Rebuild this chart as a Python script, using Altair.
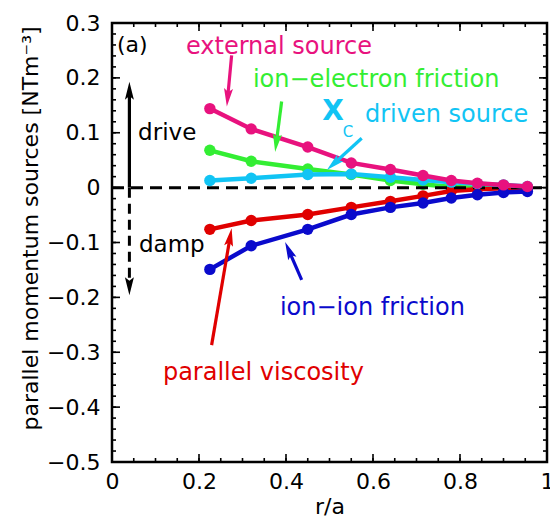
import math
import altair as alt
import pandas as pd

# ---------------- data ----------------
r_vals = [0.225, 0.32, 0.45, 0.55, 0.64, 0.715, 0.78, 0.84, 0.90, 0.955]
external = [0.144, 0.107, 0.074, 0.045, 0.033, 0.022, 0.013, 0.008, 0.005, 0.002]
ion_electron = [0.068, 0.048, 0.034, 0.024, 0.013, 0.006, 0.001, 0.0, 0.0, 0.0]
chi_c = [0.013, 0.017, 0.024, 0.025, 0.019, 0.014, 0.010, 0.007, 0.005, 0.002]
viscosity = [-0.076, -0.060, -0.049, -0.036, -0.025, -0.015, -0.006, -0.003, -0.001, 0.0]
ion_ion = [-0.149, -0.106, -0.076, -0.049, -0.036, -0.028, -0.019, -0.013, -0.009, -0.007]

x_labels = [0, 0.2, 0.4, 0.6, 0.8, 1]
y_labels = [-0.5, -0.4, -0.3, -0.2, -0.1, 0, 0.1, 0.2, 0.3]
x_minor = [round(0.05 * i, 2) for i in range(21)]
y_minor = [round(-0.5 + 0.02 * i, 2) for i in range(41)]

PINK = "#e8127e"
GREEN = "#33ee33"
CYAN = "#11c4f4"
RED = "#e00000"
BLUE = "#0a0acc"

# annotation texts (data coords)
ann_text = ["(a)", "external source", "ion\u2212electron friction", "driven source",
            "drive", "damp", "ion\u2212ion friction", "parallel viscosity"]
ann_r = [0.0115, 0.170, 0.324, 0.5816, 0.060, 0.062, 0.386, 0.117]
ann_v = [0.260, 0.256, 0.196, 0.1323, 0.0995, -0.1046, -0.2194, -0.3378]
ann_col = ["black", PINK, GREEN, CYAN, "black", "black", BLUE, RED]
ann_fs = [22, 24, 24, 24, 23, 23, 24, 24]

# arrows: start -> tip
arr_r0 = [0.275, 0.390, 0.574, 0.436, 0.229]
arr_v0 = [0.241, 0.157, 0.090, -0.168, -0.287]
arr_r1 = [0.264, 0.375, 0.494, 0.398, 0.275]
arr_v1 = [0.148, 0.065, 0.032, -0.099, -0.074]
arr_col = [PINK, GREEN, CYAN, BLUE, RED]

drive_r = 0.04
drive_v = [0.0, 0.193]
damp_v = [0.0, -0.196]

W, H = 435, 439
FONT = "DejaVu Sans"
PX_X = W / 1.0
PX_Y = H / 0.8
HEAD = 9.0

xscale = alt.Scale(domain=[0, 1], nice=False, zero=False)
yscale = alt.Scale(domain=[-0.5, 0.3], nice=False, zero=False)
xaxis = alt.Axis(values=x_labels, format=".1~f", ticks=False, tickSize=0, domain=False, grid=False,
                 labelFont=FONT, labelFontSize=22, labelColor="black", labelPadding=9,
                 labelFlush=False, labelOverlap=False,
                 title="r/a", titleFont=FONT, titleFontSize=22, titleFontWeight="normal",
                 titleColor="black", titlePadding=4)
yaxis = alt.Axis(values=y_labels, format=".1~f", ticks=False, tickSize=0, domain=False, grid=False,
                 labelFont=FONT, labelFontSize=22, labelColor="black", labelPadding=12,
                 labelFlush=False, labelOverlap=False,
                 title="parallel momentum sources [NTm\u207b\u00b3]", titleFont=FONT,
                 titleFontSize=22, titleFontWeight="normal", titleColor="black",
                 titleX=-70, titleY=205)
X = alt.X("r:Q", scale=xscale, axis=xaxis)
Y = alt.Y("v:Q", scale=yscale, axis=yaxis)

layers = []

# ticks (inward)
def ticks_y(vals, length):
    d = pd.DataFrame({"v": vals})
    left = alt.Chart(d).mark_rule(color="black", strokeWidth=1.6).encode(
        y=Y, x=alt.value(0), x2=alt.value(length))
    right = alt.Chart(d).mark_rule(color="black", strokeWidth=1.6).encode(
        y=Y, x=alt.value(W), x2=alt.value(W - length))
    return [left, right]

def ticks_x(vals, length):
    d = pd.DataFrame({"r": vals})
    top = alt.Chart(d).mark_rule(color="black", strokeWidth=1.6).encode(
        x=X, y=alt.value(0), y2=alt.value(length))
    bot = alt.Chart(d).mark_rule(color="black", strokeWidth=1.6).encode(
        x=X, y=alt.value(H), y2=alt.value(H - length))
    return [top, bot]

layers += ticks_y(y_minor, 4) + ticks_y(y_labels, 8) + ticks_x(x_minor, 4) + ticks_x(x_labels, 8)

def series(vals, color):
    d = pd.DataFrame({"r": r_vals, "v": vals})
    base = alt.Chart(d)
    return [base.mark_line(color=color, strokeWidth=4.5).encode(x=X, y=Y),
            base.mark_circle(color=color, size=130, opacity=1).encode(x=X, y=Y)]

zero = alt.Chart(pd.DataFrame({"v": [0.0]})).mark_rule(
    color="black", strokeWidth=3, strokeDash=[12, 7]).encode(y=Y, x=alt.value(0), x2=alt.value(W))

layers += series(ion_electron, GREEN)
layers += series(viscosity, RED)
layers.append(zero)
layers += series(chi_c, CYAN)
layers += series(ion_ion, BLUE)
layers += series(external, PINK)

# arrows
def arrow_parts(r0, v0, r1, v1):
    dx = (r1 - r0) * PX_X
    dy = -(v1 - v0) * PX_Y
    L = math.hypot(dx, dy)
    ux, uy = dx / L, dy / L
    cr = r1 - ux * HEAD / PX_X
    cv = v1 + uy * HEAD / PX_Y
    ang = math.degrees(math.atan2(ux, -uy)) % 360
    return cr, cv, ang

rows_line, rows_head = [], []
for r0, v0, r1, v1, c in zip(arr_r0, arr_v0, arr_r1, arr_v1, arr_col):
    cr, cv, ang = arrow_parts(r0, v0, r1, v1)
    rows_line.append({"r": r0, "v": v0, "r2": cr, "v2": cv, "c": c})
    rows_head.append({"r": cr, "v": cv, "a": ang, "c": c})
# drive / damp
cr, cv, ang = arrow_parts(drive_r, drive_v[0], drive_r, drive_v[1])
rows_line.append({"r": drive_r, "v": drive_v[0], "r2": cr, "v2": cv, "c": "black"})
rows_head.append({"r": cr, "v": cv, "a": ang, "c": "black"})
dcr, dcv, dang = arrow_parts(drive_r, damp_v[0], drive_r, damp_v[1])
rows_head.append({"r": dcr, "v": dcv, "a": dang, "c": "black"})

lines_df = pd.DataFrame(rows_line)
heads_df = pd.DataFrame(rows_head)
damp_df = pd.DataFrame([{"r": drive_r, "v": damp_v[0], "r2": dcr, "v2": dcv}])

layers.append(alt.Chart(lines_df).mark_rule(strokeWidth=3.2).encode(
    x=X, y=Y, x2="r2:Q", y2="v2:Q", color=alt.Color("c:N", scale=None)))
layers.append(alt.Chart(damp_df).mark_rule(strokeWidth=3, strokeDash=[10, 6], color="black").encode(
    x=X, y=Y, x2="r2:Q", y2="v2:Q"))
layers.append(alt.Chart(heads_df).mark_point(
    shape="M0,-1L0.5,1L0,0.6L-0.5,1Z", filled=True, opacity=1, size=324, strokeWidth=0).encode(
    x=X, y=Y, angle=alt.Angle("a:Q", scale=None), color=alt.Color("c:N", scale=None)))

# texts
txt_df = pd.DataFrame({"r": ann_r, "v": ann_v, "t": ann_text, "c": ann_col, "fs": ann_fs})
layers.append(alt.Chart(txt_df).mark_text(align="left", baseline="middle", font=FONT).encode(
    x=X, y=Y, text="t:N", color=alt.Color("c:N", scale=None), size=alt.Size("fs:Q", scale=None)))

chi_df = pd.DataFrame({"r": [0.508], "v": [0.1378], "t": ["X"]})
layers.append(alt.Chart(chi_df).mark_text(align="center", baseline="middle", font=FONT, color=CYAN,
                                          fontSize=28, fontWeight="bold").encode(
    x=X, y=Y, text="t:N"))
sub_df = pd.DataFrame({"r": [0.5425], "v": [0.1013], "t": ["C"]})
layers.append(alt.Chart(sub_df).mark_text(align="center", baseline="middle", font=FONT, color=CYAN,
                                          fontSize=15).encode(
    x=X, y=Y, text="t:N"))

chart = alt.layer(*layers).properties(
    width=W, height=H,
    padding={"left": 112, "top": 23, "right": 3, "bottom": 63},
    autosize=alt.AutoSizeParams(type="none"),
    background="white",
).configure_view(stroke="black", strokeWidth=2.5)

chart.save("out.html", embed_options={"renderer": "svg", "actions": False})
